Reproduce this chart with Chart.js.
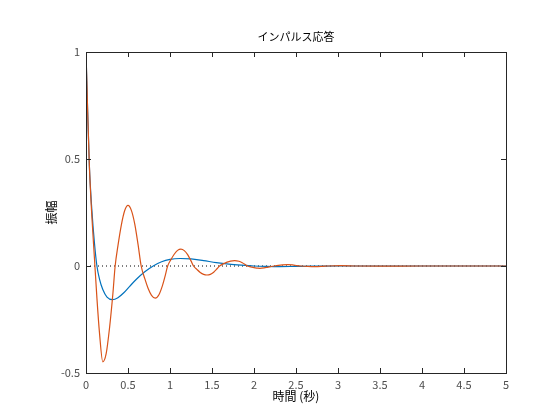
<!DOCTYPE html>
<html>
<head>
<meta charset="utf-8">
<script src="https://cdn.jsdelivr.net/npm/chart.js@4"></script>
<style>
  html, body { margin: 0; padding: 0; background: #fff; }
  #wrap { width: 560px; height: 420px; }
</style>
</head>
<body>
<div id="wrap"><canvas id="mychart"></canvas></div>
<script>
// Time axis ticks
var xTicks = [0, 0.5, 1, 1.5, 2, 2.5, 3, 3.5, 4, 4.5, 5];
var yTicks = [-0.5, 0, 0.5, 1];

// Blue response
var blueT = [0, 0.02, 0.04, 0.07, 0.1, 0.13, 0.16, 0.2, 0.25, 0.315, 0.38, 0.45, 0.52, 0.6, 0.7, 0.8, 0.9, 1.0, 1.12, 1.25, 1.4, 1.55, 1.7, 1.85, 2.0, 2.15, 2.3, 2.5, 2.7, 3.0, 3.5, 4.0, 4.5, 5.0];
var blueY = [1.0, 0.72, 0.47, 0.26, 0.11, 0.0, -0.06, -0.11, -0.145, -0.157, -0.148, -0.125, -0.095, -0.062, -0.027, 0.0, 0.02, 0.031, 0.035, 0.033, 0.025, 0.016, 0.009, 0.004, 0.0, -0.002, -0.003, -0.002, -0.001, 0.0, 0.0, 0.0, 0.0, 0.0];

// Orange response
var orangeT = [0, 0.02, 0.04, 0.07, 0.1, 0.13, 0.16, 0.2, 0.24, 0.28, 0.32, 0.347, 0.38, 0.42, 0.46, 0.5, 0.54, 0.58, 0.62, 0.657, 0.7, 0.74, 0.78, 0.825, 0.87, 0.91, 0.94, 0.972, 1.01, 1.05, 1.09, 1.13, 1.17, 1.21, 1.25, 1.28, 1.32, 1.36, 1.4, 1.44, 1.48, 1.52, 1.56, 1.59, 1.64, 1.68, 1.72, 1.77, 1.82, 1.86, 1.89, 1.92, 1.96, 2.0, 2.04, 2.07, 2.12, 2.17, 2.24, 2.29, 2.34, 2.4, 2.46, 2.51, 2.56, 2.64, 2.72, 2.8, 2.88, 3.04, 3.2, 3.5, 4.0, 4.5, 5.0];
var orangeY = [1.0, 0.72, 0.47, 0.23, 0.04, -0.15, -0.31, -0.448, -0.41, -0.29, -0.13, 0.0, 0.094, 0.19, 0.258, 0.283, 0.26, 0.197, 0.1, 0.0, -0.059, -0.105, -0.137, -0.15, -0.133, -0.092, -0.05, 0.0, 0.029, 0.055, 0.073, 0.079, 0.072, 0.053, 0.024, 0.0, -0.016, -0.03, -0.039, -0.042, -0.039, -0.029, -0.013, 0.0, 0.011, 0.018, 0.023, 0.025, 0.022, 0.015, 0.008, 0.0, -0.004, -0.008, -0.01, -0.011, -0.009, -0.005, 0.0, 0.003, 0.005, 0.006, 0.005, 0.002, 0.0, -0.002, -0.003, -0.002, 0.0, 0.0015, 0.0, -0.0005, 0.0, 0.0, 0.0];

// Zero reference line
var zeroT = [0, 5];
var zeroY = [0, 0];

function pts(t, y) {
    return t.map(function (v, i) { return { x: v, y: y[i] }; });
}

var fontJP = '"Noto Sans CJK JP", "Noto Sans", sans-serif';

// box with inward ticks on all four sides
var boxTicks = {
    id: 'boxTicks',
    afterDraw: function (chart) {
        var c = chart.ctx, a = chart.chartArea;
        var xs = chart.scales.x, ys = chart.scales.y;
        var len = 5;
        c.save();
        c.strokeStyle = '#262626';
        c.lineWidth = 1;
        c.beginPath();
        c.rect(Math.round(a.left) + 0.5, Math.round(a.top) + 0.5, Math.round(a.right - a.left), Math.round(a.bottom - a.top));
        xTicks.forEach(function (v) {
            var px = Math.round(xs.getPixelForValue(v)) + 0.5;
            c.moveTo(px, a.bottom); c.lineTo(px, a.bottom - len);
            c.moveTo(px, a.top); c.lineTo(px, a.top + len);
        });
        yTicks.forEach(function (v) {
            var py = Math.round(ys.getPixelForValue(v)) + 0.5;
            c.moveTo(a.left, py); c.lineTo(a.left + len, py);
            c.moveTo(a.right, py); c.lineTo(a.right - len, py);
        });
        c.stroke();
        c.restore();
    }
};

function plain(v) { return String(v); }

var ctx = document.getElementById("mychart");

var mychart = new Chart(ctx, {
    type: 'line',
    data: {
        datasets: [
            {
                data: pts(zeroT, zeroY),
                borderColor: '#000000',
                borderWidth: 1,
                borderDash: [1, 3],
                pointRadius: 0,
                fill: false,
                order: 3
            },
            {
                data: pts(blueT, blueY),
                borderColor: '#0072BD',
                borderWidth: 1.2,
                pointRadius: 0,
                cubicInterpolationMode: 'monotone',
                fill: false,
                order: 2
            },
            {
                data: pts(orangeT, orangeY),
                borderColor: '#D95319',
                borderWidth: 1.2,
                pointRadius: 0,
                cubicInterpolationMode: 'monotone',
                fill: false,
                order: 1
            }
        ]
    },
    plugins: [boxTicks],
    options: {
        responsive: true,
        maintainAspectRatio: false,
        animation: false,
        layout: { padding: { left: 0, right: 54, top: 0, bottom: 0 } },
        plugins: {
            legend: { display: false },
            tooltip: { enabled: false }
        },
        scales: {
            // top axis used only to hold the title centred over the plot
            top: {
                type: 'linear',
                position: 'top',
                min: 0,
                max: 5,
                afterFit: function (s) { s.height = 52; },
                grid: { display: false, drawTicks: false },
                border: { display: false },
                ticks: { display: false },
                title: {
                    display: true,
                    text: 'インパルス応答',
                    color: '#000000',
                    font: { family: fontJP, size: 11 },
                    padding: { top: 30, bottom: 0 }
                }
            },
            x: {
                type: 'linear',
                position: 'bottom',
                min: 0,
                max: 5,
                afterBuildTicks: function (s) { s.ticks = xTicks.map(function (v) { return { value: v }; }); },
                afterFit: function (s) { s.height = 47; },
                grid: { display: false, drawTicks: false },
                border: { display: true, color: '#262626' },
                ticks: {
                    color: '#4d4d4d',
                    padding: 5,
                    maxRotation: 0,
                    font: { family: fontJP, size: 11 },
                    callback: plain
                },
                title: {
                    display: true,
                    text: '時間 (秒)',
                    color: '#000000',
                    font: { family: fontJP, size: 12 },
                    padding: { top: 0, bottom: 16 }
                }
            },
            y: {
                type: 'linear',
                min: -0.5,
                max: 1,
                afterBuildTicks: function (s) { s.ticks = yTicks.map(function (v) { return { value: v }; }); },
                afterFit: function (s) { s.width = 86; },
                grid: { display: false, drawTicks: false },
                border: { display: true, color: '#262626' },
                ticks: {
                    color: '#4d4d4d',
                    padding: 6,
                    font: { family: fontJP, size: 11 },
                    callback: plain
                },
                title: {
                    display: true,
                    text: '振幅',
                    color: '#000000',
                    font: { family: fontJP, size: 12 },
                    padding: { top: 44, bottom: 0 }
                }
            }
        }
    }
});
</script>
</body>
</html>
